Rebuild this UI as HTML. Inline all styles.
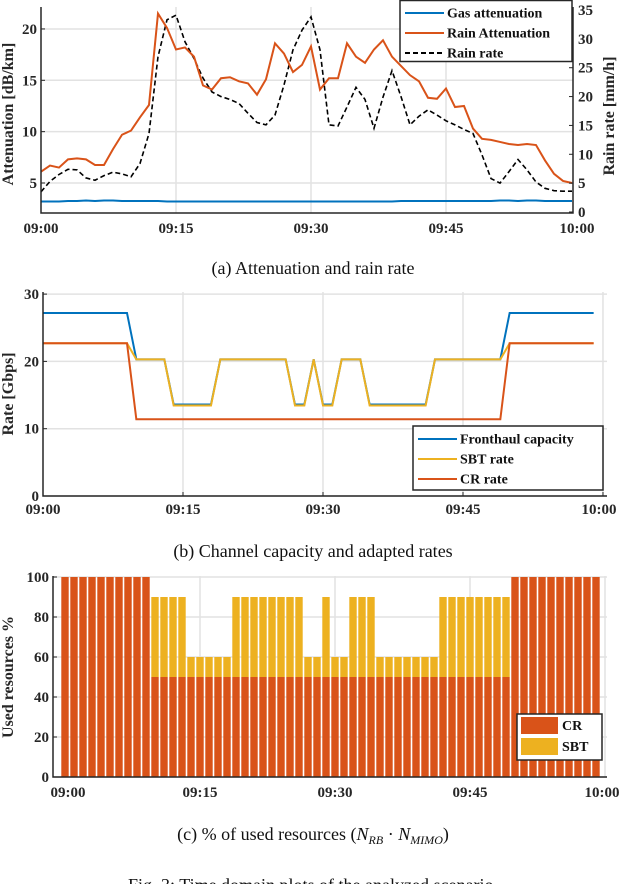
<!DOCTYPE html>
<html><head><meta charset="utf-8"><style>
html,body{margin:0;padding:0;background:#fff;}
svg{display:block;font-family:"Liberation Serif",serif;}
.tk{font-weight:bold;font-size:15px;fill:#262626;}
.al{font-weight:bold;font-size:16px;fill:#262626;}
.cap{font-size:18px;fill:#111;}
.lg{font-weight:bold;font-size:14px;fill:#111;}
</style></head><body>
<svg id="fig" width="626" height="884" viewBox="0 0 626 884" xmlns="http://www.w3.org/2000/svg"></svg>
<script>
// ---- data ----
const minutes = Array.from({length:60},(_,i)=>i);
const timeTicks = ["09:00","09:15","09:30","09:45","10:00"];
const rainAtt = [6.1,6.7,6.5,7.3,7.4,7.3,6.75,6.75,8.3,9.7,10.1,11.4,12.6,21.5,20.1,18.0,18.2,17.3,14.5,14.1,15.2,15.3,14.9,14.7,13.6,15.1,18.6,17.6,15.8,16.5,18.3,14.1,15.2,15.2,18.6,17.3,16.7,18.0,18.9,17.3,16.4,15.5,14.9,13.3,13.2,14.2,12.4,12.5,10.3,9.3,9.2,9.0,8.8,8.7,8.8,8.7,7.2,5.9,5.2,5.0];
const rainRate = [3.5,5.3,6.5,7.4,7.3,5.9,5.5,6.3,6.9,6.6,6.1,8.4,13.6,26.9,33.3,34.1,29.5,26.6,23.2,20.8,20.0,19.5,18.8,17.1,15.5,15.1,16.8,22.0,28.1,31.5,33.8,28.1,15.1,14.9,18.2,21.6,19.5,14.5,19.9,24.5,20.0,15.1,16.6,17.7,16.8,15.8,15.1,14.3,13.6,9.9,5.8,5.0,7.0,9.1,7.3,5.2,4.1,3.7,3.6,3.6];
const gasAtt = [3.2,3.2,3.2,3.25,3.25,3.3,3.25,3.3,3.3,3.25,3.25,3.25,3.25,3.25,3.2,3.2,3.2,3.2,3.2,3.2,3.2,3.2,3.2,3.2,3.2,3.2,3.2,3.2,3.2,3.2,3.2,3.2,3.2,3.2,3.2,3.2,3.2,3.2,3.2,3.2,3.25,3.25,3.25,3.25,3.25,3.25,3.25,3.25,3.25,3.25,3.25,3.3,3.3,3.25,3.3,3.3,3.25,3.25,3.25,3.25];
const attTicks = [5,10,15,20];
const rainTicks = [0,5,10,15,20,25,30,35];
// resource usage per minute (%)
const totalUse = [100,100,100,100,100,100,100,100,100,100,90,90,90,90,60,60,60,60,60,90,90,90,90,90,90,90,90,60,60,90,60,60,90,90,90,60,60,60,60,60,60,60,90,90,90,90,90,90,90,90,100,100,100,100,100,100,100,100,100,100];
const crUse = totalUse.map(v=>v===100?100:50);
const fronthaulByUse = {100:27.2,90:20.3,60:13.6};
const sbtByUse = {100:22.7,90:20.3,60:13.45};
const crByUse = {100:22.7,90:11.4,60:11.4};
const rateTicks = [0,10,20,30];
const useTicks = [0,20,40,60,80,100];

const NS="http://www.w3.org/2000/svg";
const svg=document.getElementById('fig');
function mk(tag,attrs,parent){const e=document.createElementNS(NS,tag);for(const k in attrs)e.setAttribute(k,attrs[k]);(parent||svg).appendChild(e);return e;}
function txt(s,attrs,parent){const e=mk('text',attrs,parent);e.textContent=s;return e;}
const BLUE="#0072BD",ORANGE="#D95319",YELLOW="#EDB120",GRID="#e2e2e2",AX="#262626";

// ===== Chart A =====
(function(){
 const g=mk('g',{});
 
 
 const L=41,R=573,T=7,B=213;
 const x=m=>L+m*9;
 const yl=v=>183-(v-5)*10.27;
 const yr=v=>212-v*202/35;
 for(let i=1;i<4;i++){const gx=x(i*15);const l=mk('line',{x1:gx,x2:gx,y1:T,y2:B,stroke:GRID,'stroke-width':1.5},g);}
 attTicks.forEach(v=>{const l=mk('line',{x1:L,x2:R,y1:yl(v),y2:yl(v),stroke:GRID,'stroke-width':1.5},g);});
 const gas=mk('polyline',{points:gasAtt.map((v,i)=>x(i)+','+yl(v)).join(' '),fill:'none',stroke:BLUE,'stroke-width':2},g);
 
 const rr=mk('polyline',{points:rainRate.map((v,i)=>x(i)+','+yr(v)).join(' '),fill:'none',stroke:'#000','stroke-width':1.6,'stroke-dasharray':'5,3'},g);
 
 const ra=mk('polyline',{points:rainAtt.map((v,i)=>x(i)+','+yl(v)).join(' '),fill:'none',stroke:ORANGE,'stroke-width':2},g);
 
 mk('path',{d:`M${L},${T}V${B}H${R}V${T}`,fill:'none',stroke:AX,'stroke-width':1.5},g);
 attTicks.forEach(v=>{mk('line',{x1:L,x2:L+4,y1:yl(v),y2:yl(v),stroke:AX},g);const t=txt(String(v),{x:L-4,y:yl(v)+5,'text-anchor':'end',class:'tk'},g);});
 rainTicks.forEach(v=>{mk('line',{x1:R-4,x2:R,y1:yr(v),y2:yr(v),stroke:AX},g);const t=txt(String(v),{x:R+5,y:yr(v)+5,class:'tk'},g);});
 timeTicks.forEach((s,i)=>{const t=txt(s,{x:x(i*15)+(i==4?-4:0),y:233,'text-anchor':'middle',class:'tk'},g);});
 const yt=txt('Attenuation [dB/km]',{transform:'translate(13,114) rotate(-90)','text-anchor':'middle',class:'al'},g);
 
 const yt2=txt('Rain rate [mm/h]',{transform:'translate(614,116) rotate(-90)','text-anchor':'middle',class:'al'},g);
 
 const lg=mk('g',{},g);
 mk('rect',{x:400,y:0.5,width:172,height:61,fill:'#fff',stroke:AX,'stroke-width':1.5},lg);
 [["Gas attenuation",BLUE,null],["Rain Attenuation",ORANGE,null],["Rain rate","#000","5,3"]].forEach((e,i)=>{const yy=13+i*20;
  const a={x1:405,x2:444,y1:yy,y2:yy,stroke:e[1],'stroke-width':2};if(e[2])a['stroke-dasharray']=e[2];mk('line',a,lg);
  const t=txt(e[0],{x:447,y:yy+4.5,class:'lg'},lg);});
 const c=txt('(a) Attenuation and rain rate',{x:313,y:274,'text-anchor':'middle',class:'cap'});
 
})();

// ===== Chart B =====
(function(){
 const g=mk('g',{});
 
 const L=43,R=607,T=292,B=496;
 const x=m=>L+m*9.333;
 const y=v=>496-v*6.73;
 for(let i=1;i<=4;i++){const l=mk('line',{x1:x(i*15),x2:x(i*15),y1:T,y2:B,stroke:GRID,'stroke-width':1.5},g);}
 rateTicks.forEach(v=>{const l=mk('line',{x1:L,x2:R,y1:y(v),y2:y(v),stroke:GRID,'stroke-width':1.5},g);});
 const series=[[fronthaulByUse,BLUE,'fronthaul-capacity-line'],[sbtByUse,YELLOW,'sbt-rate-line'],[crByUse,ORANGE,'cr-rate-line']];
 series.forEach(s=>{const p=mk('polyline',{points:totalUse.map((u,i)=>x(i)+','+y(s[0][u])).join(' '),fill:'none',stroke:s[1],'stroke-width':2},g);
  });
 mk('path',{d:`M${L},${T}V${B}H${R}`,fill:'none',stroke:AX,'stroke-width':1.5},g);
 rateTicks.forEach(v=>{mk('line',{x1:L,x2:L+4,y1:y(v),y2:y(v),stroke:AX},g);const t=txt(String(v),{x:L-4,y:y(v)+5,'text-anchor':'end',class:'tk'},g);});
 timeTicks.forEach((s,i)=>{mk('line',{x1:x(i*15),x2:x(i*15),y1:B,y2:B-4,stroke:AX},g);const t=txt(s,{x:x(i*15)-(i==4?4:0),y:514,'text-anchor':'middle',class:'tk'},g);});
 const yt=txt('Rate [Gbps]',{transform:'translate(13,394) rotate(-90)','text-anchor':'middle',class:'al'},g);
 
 const lg=mk('g',{},g);
 mk('rect',{x:413,y:426,width:190,height:64,fill:'#fff',stroke:AX,'stroke-width':1.5},lg);
 [["Fronthaul capacity",BLUE],["SBT rate",YELLOW],["CR rate",ORANGE]].forEach((e,i)=>{const yy=439+i*20;
  mk('line',{x1:418,x2:457,y1:yy,y2:yy,stroke:e[1],'stroke-width':2},lg);
  const t=txt(e[0],{x:460,y:yy+4.5,class:'lg'},lg);});
 const c=txt('(b) Channel capacity and adapted rates',{x:313,y:557,'text-anchor':'middle',class:'cap'});
 
})();

// ===== Chart C =====
(function(){
 const g=mk('g',{});
 
 const L=53,R=607,T=576,B=777;
 const x=m=>65+m*9;
 const y=v=>777-v*2;
 for(let i=1;i<=4;i++){const l=mk('line',{x1:x(i*15),x2:x(i*15),y1:T,y2:B,stroke:GRID,'stroke-width':1.5},g);}
 useTicks.forEach(v=>{const l=mk('line',{x1:L,x2:R,y1:y(v),y2:y(v),stroke:GRID,'stroke-width':1.5},g);});
 const bw=7.4;
 minutes.forEach(i=>{
  const sb=mk('rect',{x:x(i)-bw/2,y:y(totalUse[i]),width:bw,height:y(crUse[i])-y(totalUse[i]),fill:YELLOW},g);
  
  const cr=mk('rect',{x:x(i)-bw/2,y:y(crUse[i]),width:bw,height:y(0)-y(crUse[i]),fill:ORANGE},g);
  
 });
 mk('path',{d:`M${L},${T}V${B}H${R}`,fill:'none',stroke:AX,'stroke-width':1.5},g);
 useTicks.forEach(v=>{mk('line',{x1:L,x2:L+4,y1:y(v),y2:y(v),stroke:AX},g);const t=txt(String(v),{x:L-4,y:y(v)+5,'text-anchor':'end',class:'tk'},g);});
 timeTicks.forEach((s,i)=>{const t=txt(s,{x:x(i*15)+(i==0?3:0)-(i==4?3:0),y:797,'text-anchor':'middle',class:'tk'},g);});
 const yt=txt('Used resources %',{transform:'translate(13,677) rotate(-90)','text-anchor':'middle',class:'al'},g);
 
 const lg=mk('g',{},g);
 mk('rect',{x:517,y:714,width:85,height:46,fill:'#fff',stroke:AX,'stroke-width':1.5},lg);
 [["CR",ORANGE],["SBT",YELLOW]].forEach((e,i)=>{const yy=717+i*21;
  mk('rect',{x:521,y:yy,width:37,height:17,fill:e[1]},lg);
  const t=txt(e[0],{x:562,y:yy+13,class:'lg'},lg);});
 const c=mk('text',{x:313,y:840,'text-anchor':'middle',class:'cap'});
 
 c.innerHTML='(c) % of used resources (<tspan font-style="italic">N</tspan><tspan font-style="italic" font-size="12" dy="4">RB</tspan><tspan dy="-4"> · </tspan><tspan font-style="italic">N</tspan><tspan font-style="italic" font-size="12" dy="4">MIMO</tspan><tspan dy="-4">)</tspan>';
 const f=txt('Fig. 3: Time domain plots of the analyzed scenario.',{x:313,y:891,'text-anchor':'middle',class:'cap'});
 
})();
</script>
</body></html>
